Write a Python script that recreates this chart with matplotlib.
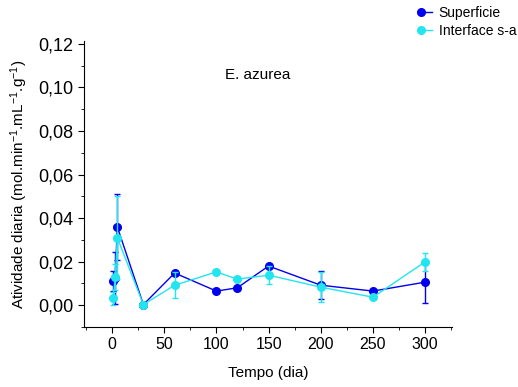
import matplotlib
matplotlib.use("Agg")
import matplotlib.pyplot as plt
from matplotlib.lines import Line2D
from matplotlib.legend_handler import HandlerLine2D
from matplotlib.ticker import MultipleLocator, FuncFormatter

plt.rcParams['font.family'] = ['Liberation Sans', 'DejaVu Sans']
plt.rcParams['mathtext.default'] = 'regular'

# dados
dias_sup = [1, 3, 5, 30, 60, 100, 120, 150, 200, 250, 300]
sup = [0.011, 0.0125, 0.036, 0.0003, 0.0148, 0.0065, 0.008, 0.018, 0.0092, 0.0065, 0.0106]
sup_err = [0.0045, 0.012, 0.015, 0.0005, 0.0008, 0.0005, 0.0006, 0.0007, 0.0065, 0.0004, 0.0095]

dias_int = [1, 3, 5, 30, 60, 100, 120, 150, 200, 250, 300]
inter = [0.0032, 0.013, 0.031, 0.0003, 0.0092, 0.0153, 0.012, 0.0138, 0.0083, 0.0037, 0.0199]
inter_err = [0.003, 0.006, 0.019, 0.0005, 0.006, 0.0008, 0.0008, 0.004, 0.007, 0.0005, 0.0042]

cor_sup = '#0000ee'
cor_int = '#22e5f0'


class MarcadorEsquerda(HandlerLine2D):
    # linha da legenda com o marcador so na ponta esquerda
    def create_artists(self, *args, **kw):
        arts = super().create_artists(*args, **kw)
        arts[0].set_markevery([0])
        return arts


fig = plt.figure(figsize=(5.18, 3.87), dpi=100)
ax = fig.add_axes([0.162, 0.155, 0.711, 0.74])

ax.errorbar(dias_sup, sup, yerr=sup_err, color=cor_sup, ecolor=cor_sup, marker='o',
            markersize=5.5, lw=1, elinewidth=1, capsize=2, zorder=3)
ax.errorbar(dias_int, inter, yerr=inter_err, color=cor_int, ecolor=cor_int, marker='o',
            markersize=5.5, lw=1, elinewidth=1, capsize=2, zorder=4)

ax.set_xlim(-27, 326)
ax.set_ylim(-0.01, 0.1215)
ax.xaxis.set_major_locator(MultipleLocator(50))
ax.xaxis.set_minor_locator(MultipleLocator(25))
ax.yaxis.set_minor_locator(MultipleLocator(0.01))
ax.set_yticks([0, 0.02, 0.04, 0.06, 0.08, 0.10, 0.12])
ax.yaxis.set_major_formatter(FuncFormatter(lambda v, p: ('%.2f' % v).replace('.', ',')))

ax.spines['top'].set_visible(False)
ax.spines['right'].set_visible(False)
ax.tick_params(direction='out', which='major', length=4)
ax.tick_params(direction='out', which='minor', length=2.5)
ax.tick_params(axis='y', labelsize=13)
ax.tick_params(axis='x', labelsize=11.5)

ax.set_xlabel('Tempo (dia)', fontsize=11, labelpad=10)
ax.set_ylabel('Atividade diaria (mol.min$^{-1}$.mL$^{-1}$.g$^{-1}$)', fontsize=11, labelpad=6)

ax.text(0.383, 0.865, 'E. azurea', transform=ax.transAxes, fontsize=11, va='baseline')

handles = [Line2D([], [], color=cor_sup, marker='o', markersize=5.5, lw=1),
           Line2D([], [], color=cor_int, marker='o', markersize=5.5, lw=1)]
fig.legend(handles, ['Superficie', 'Interface s-a'], loc='upper left',
           bbox_to_anchor=(417 / 518, 1 - 6 / 387), frameon=False, fontsize=10,
           handler_map={Line2D: MarcadorEsquerda(numpoints=2)},
           handlelength=1.4, handletextpad=0.15, labelspacing=0.3,
           borderaxespad=0, borderpad=0)

fig.savefig('out.png', dpi=100)
